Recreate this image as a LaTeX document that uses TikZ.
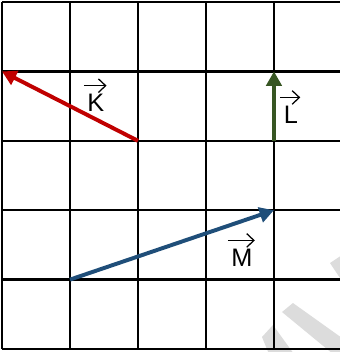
\documentclass[tikz,border=0pt]{standalone}
\usepackage{fontspec}
\setmainfont{Liberation Sans}
\usepackage{tikz}
\usetikzlibrary{arrows.meta}

\definecolor{kred}{HTML}{C00000}
\definecolor{lgreen}{HTML}{375623}
\definecolor{mblue}{HTML}{1F4E79}
\definecolor{wmark}{HTML}{DCDCDC}

\begin{document}
\begin{tikzpicture}[x=1.7cm, y=1.735cm,
  gridline/.style={line width=1.6pt},
  vecarrow/.style={line width=2.8pt,
                   -{Triangle[length=0.36cm, width=0.38cm]}},
  vlabel/.style={inner sep=0pt, font=\fontsize{18}{20}\selectfont},
  overarrow/.style={line width=0.9pt,
                    -{Straight Barb[length=0.18cm, width=0.34cm]}}
]
  \useasboundingbox (-0.029,-0.043) rectangle (4.971,5.029);

  % faint watermark strokes
  \fill[wmark] (4.118,0.533) -- (4.279,0.663) -- (5,0.159) -- (5,-0.072) -- (4.868,-0.072) -- cycle;
  \fill[wmark] (3.824,0.173) -- (3.985,0.346) -- (4.294,-0.072) -- (3.926,-0.072) -- cycle;
  \fill[wmark] (4.824,1.239) -- (5,1.354) -- (5,0.980) -- cycle;

  % grid
  \foreach \i in {0,...,5}
    \draw[gridline] (0,\i) -- (5,\i);
  \foreach \i in {0,...,4}
    \draw[gridline] (\i,0) -- (\i,5);

  \coordinate (K1) at (2,3);
  \coordinate (K2) at (0,4);
  \coordinate (L1) at (4,3);
  \coordinate (L2) at (4,4);
  \coordinate (M1) at (1,1);
  \coordinate (M2) at (4,2);

  \draw[vecarrow, draw=kred, fill=kred] (K1) -- (K2);
  \draw[vecarrow, draw=lgreen, fill=lgreen] (L1) -- (L2);
  \draw[vecarrow, draw=mblue, fill=mblue] (M1) -- (M2);

  % labels with arrows on top
  \node[vlabel] (labK) at (1.38,3.55) {K};
  \node[vlabel] (labL) at (4.25,3.38) {L};
  \node[vlabel] (labM) at (3.53,1.32) {M};
  \foreach \n in {labK,labL,labM}
    \draw[overarrow] ([xshift=-0.08cm, yshift=0.2cm]\n.north west)
                  -- ([xshift=0.05cm, yshift=0.2cm]\n.north east);
\end{tikzpicture}
\end{document}
